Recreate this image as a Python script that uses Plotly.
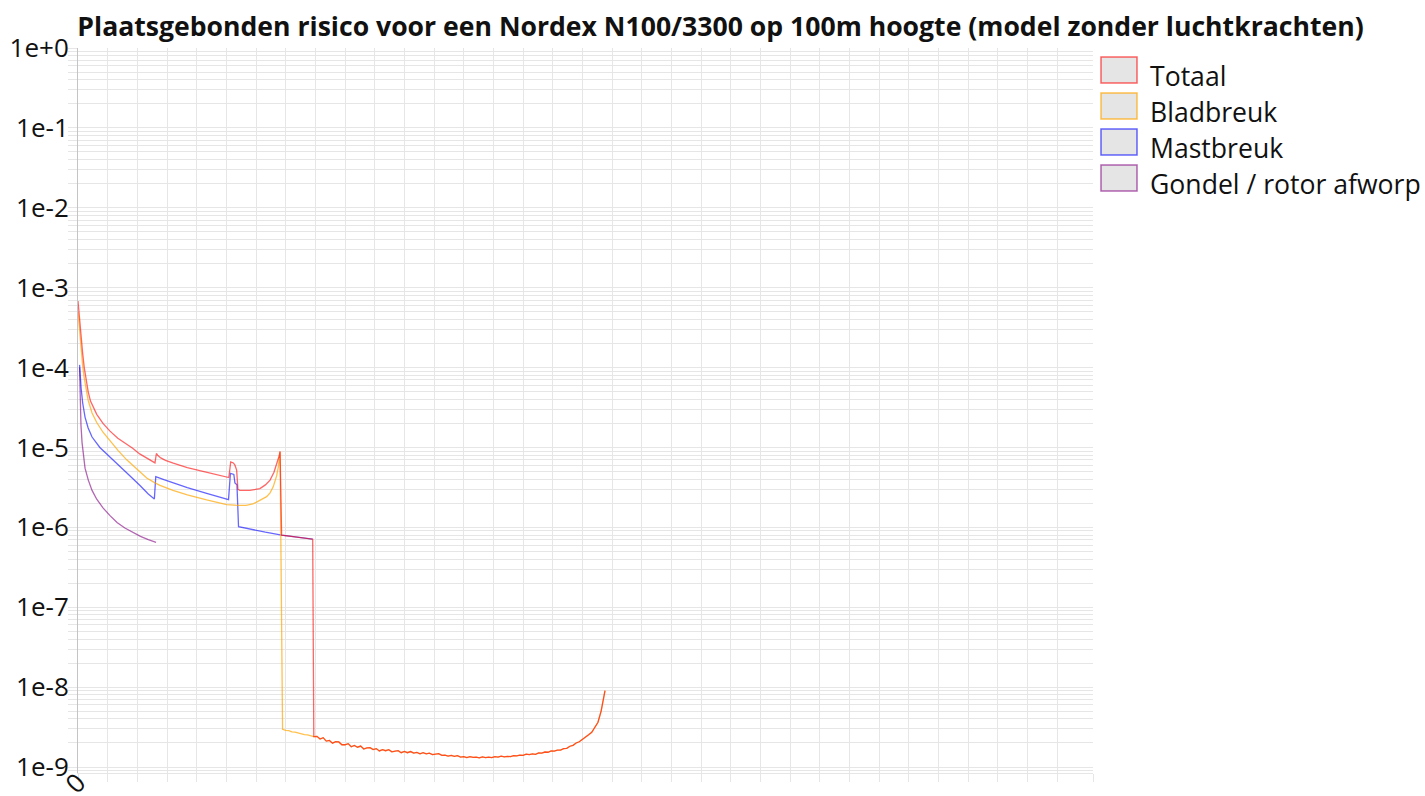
import plotly.graph_objects as go

# --- Data: afstand tot de mast (m) en plaatsgebonden risico per jaar ---

# Totaal, deel tot het einde van de mastbreuk-zone
totaal_x = [0, 1, 2, 3, 4, 5, 6.5, 8, 10, 12, 16, 20.5, 25.5, 31, 35, 39.5, 44, 49.3,
            50.2, 51, 53, 56, 61, 70, 82, 90, 96.6, 97.8, 99.5, 100.5, 101.6, 102.4,
            103.6, 110, 116.5, 120, 123, 125.5, 127.5, 128.8, 129.4, 130.4, 136.5, 143, 150.3]
totaal_y = [6.8e-4, 3.9e-4, 2.4e-4, 1.5e-4, 1.0e-4, 7.2e-5, 5.0e-5, 3.8e-5, 3.1e-5, 2.6e-5,
            2.0e-5, 1.6e-5, 1.3e-5, 1.1e-5, 9.8e-6, 8.3e-6, 7.3e-6, 6.4e-6,
            8.4e-6, 8.0e-6, 7.4e-6, 6.9e-6, 6.35e-6, 5.6e-6, 4.9e-6, 4.5e-6, 4.2e-6, 6.6e-6,
            6.4e-6, 6.0e-6, 5.2e-6, 3.0e-6, 2.9e-6, 2.9e-6, 3.05e-6, 3.4e-6, 3.9e-6, 4.9e-6,
            6.3e-6, 7.8e-6, 8.9e-6, 8.0e-7, 7.7e-7, 7.45e-7, 7.1e-7]

# Bladbreuk, deel tot de staart
blad_x = [0, 1, 2, 3, 4, 5, 6.5, 9, 12, 16, 20.5, 25.6, 31.2, 35, 39.7, 44, 49.3, 52.5,
          60.8, 70, 82.4, 95.2, 102.6, 107.6, 112, 116.5, 120.8, 123, 125, 127.2, 128.3,
          128.9, 129.4, 131, 133, 135, 137, 139, 141, 143, 145, 147, 149]
blad_y = [5.0e-4, 2.7e-4, 1.6e-4, 1.05e-4, 7.4e-5, 5.5e-5, 3.9e-5, 2.7e-5, 2.05e-5,
          1.55e-5, 1.2e-5, 9.2e-6, 7.0e-6, 6.0e-6, 4.9e-6, 4.15e-6, 3.6e-6, 3.35e-6,
          2.9e-6, 2.55e-6, 2.2e-6, 1.93e-6, 1.88e-6, 1.88e-6, 1.96e-6, 2.17e-6, 2.42e-6,
          2.7e-6, 3.21e-6, 4.4e-6, 5.7e-6, 7.38e-6, 8.8e-6, 2.97e-9, 2.88e-9, 2.86e-9,
          2.76e-9, 2.74e-9, 2.66e-9, 2.63e-9, 2.55e-9, 2.53e-9, 2.45e-9]

# Staart voorbij 150 m: alleen bladbreuk draagt nog bij, dus gelijk voor totaal en bladbreuk
staart_x = [151, 153, 155, 157, 159, 161, 163, 165, 167, 169, 171, 173, 175, 177, 179, 181,
            183, 185, 187, 189, 191, 193, 195, 197, 199, 201, 203, 205, 207, 209, 211, 213,
            215, 217, 219, 221, 223, 225, 227, 229, 231, 233, 235, 237, 239, 241, 243, 245,
            247, 249, 251, 253, 255, 257, 259, 261, 263, 265, 267, 269, 271, 273, 275, 277,
            279, 281, 283, 285, 287, 289, 291, 293, 295, 297, 299, 301, 303, 305, 307, 309,
            311, 313, 315, 317, 319, 321, 323, 325, 327, 329, 331, 333, 335, 336.5, 337.5]
staart_y = [2.40e-9, 2.42e-9, 2.24e-9, 2.33e-9, 2.11e-9, 2.15e-9, 1.99e-9, 2.08e-9, 2.06e-9,
            1.90e-9, 1.90e-9, 1.96e-9, 1.79e-9, 1.86e-9, 1.77e-9, 1.83e-9, 1.68e-9, 1.74e-9,
            1.75e-9, 1.65e-9, 1.70e-9, 1.59e-9, 1.65e-9, 1.60e-9, 1.65e-9, 1.55e-9, 1.58e-9,
            1.60e-9, 1.51e-9, 1.57e-9, 1.51e-9, 1.56e-9, 1.49e-9, 1.52e-9, 1.46e-9, 1.51e-9,
            1.46e-9, 1.49e-9, 1.43e-9, 1.46e-9, 1.47e-9, 1.40e-9, 1.41e-9, 1.37e-9, 1.40e-9,
            1.36e-9, 1.39e-9, 1.33e-9, 1.35e-9, 1.31e-9, 1.35e-9, 1.32e-9, 1.33e-9, 1.30e-9,
            1.34e-9, 1.31e-9, 1.33e-9, 1.31e-9, 1.35e-9, 1.33e-9, 1.37e-9, 1.34e-9, 1.36e-9,
            1.35e-9, 1.39e-9, 1.38e-9, 1.41e-9, 1.40e-9, 1.45e-9, 1.43e-9, 1.46e-9, 1.44e-9,
            1.50e-9, 1.49e-9, 1.54e-9, 1.53e-9, 1.59e-9, 1.58e-9, 1.63e-9, 1.63e-9, 1.70e-9,
            1.71e-9, 1.82e-9, 1.87e-9, 2.00e-9, 2.07e-9, 2.21e-9, 2.32e-9, 2.53e-9, 2.72e-9,
            3.09e-9, 3.63e-9, 5.01e-9, 7.59e-9, 9.04e-9]

# Mastbreuk
mast_x = [1, 1.5, 2, 3, 4.5, 6.5, 9, 14, 20.5, 27, 33, 39.7, 45, 48.9, 49.8, 55, 61, 70,
          82.4, 90, 96.4, 97.6, 99.8, 100.5, 101.8, 102.8, 110, 120, 130.4, 140, 150.3]
mast_y = [1.08e-4, 7.5e-5, 5.5e-5, 3.6e-5, 2.4e-5, 1.75e-5, 1.35e-5, 1.0e-5, 7.6e-6,
          5.9e-6, 4.45e-6, 3.34e-6, 2.62e-6, 2.27e-6, 4.3e-6, 3.95e-6, 3.6e-6, 3.15e-6,
          2.67e-6, 2.4e-6, 2.22e-6, 4.75e-6, 4.6e-6, 3.6e-6, 3.4e-6, 1.02e-6, 9.5e-7,
          8.7e-7, 8.0e-7, 7.6e-7, 7.1e-7]

# Gondel / rotor afworp
gondel_x = [1, 1.4, 1.9, 2.6, 3.4, 4.5, 6.6, 9, 12, 16, 20.5, 25, 30, 35.4, 40, 45, 50]
gondel_y = [1.0e-4, 4.5e-5, 1.9e-5, 1.15e-5, 7.7e-6, 5.5e-6, 3.9e-6, 2.9e-6, 2.25e-6,
            1.75e-6, 1.4e-6, 1.15e-6, 9.8e-7, 8.5e-7, 7.7e-7, 7.0e-7, 6.5e-7]

reeksen = ["Totaal", "Bladbreuk", "Mastbreuk", "Gondel / rotor afworp"]
lijnkleuren = ["rgba(255,0,0,0.6)", "rgba(255,165,0,0.7)", "rgba(0,0,255,0.6)",
               "rgba(128,0,128,0.6)"]

y_labels = ["1e-9", "1e-8", "1e-7", "1e-6", "1e-5", "1e-4", "1e-3", "1e-2", "1e-1", "1e+0"]

# --- Figure ---
W, H = 1425, 796
L, R, T, B = 78, 332, 48, 23
GRID = "#e6e6e6"
FONT = "Open Sans"
FS = 26

fig = go.Figure()

series = [
    (gondel_x, gondel_y, 3),
    (mast_x, mast_y, 2),
    (blad_x + staart_x, blad_y + staart_y, 1),
    (totaal_x + staart_x, totaal_y + staart_y, 0),
]
for xs, ys, i in series:
    fig.add_trace(go.Scatter(
        x=xs, y=ys, mode="lines", name=reeksen[i], showlegend=False,
        line=dict(color=lijnkleuren[i], width=1.3),
        hoverinfo="x+y+name",
    ))

# x-as: rasterlijnen om de 19 m, alleen het label bij 0
x_ticks = list(range(0, 628, 19)) + [650]
x_text = ["0"] + [""] * (len(x_ticks) - 1)

y_major = [10.0 ** p for p in range(-9, 1)]
y_minor = [k * 10.0 ** p for p in range(-10, 0) for k in range(2, 10)]

fig.update_xaxes(
    range=[0, 650], tickmode="array", tickvals=x_ticks, ticktext=x_text,
    tickangle=-45, ticks="outside", ticklen=8, tickcolor=GRID, ticklabelstandoff=-25,
    showgrid=True, gridcolor=GRID, gridwidth=1, zeroline=False,
    showline=True, linecolor=GRID, linewidth=1, automargin=False,
    tickfont=dict(family=FONT, size=FS, color="#111"),
)
fig.update_yaxes(
    type="log", range=[-9.075, 0], tickmode="array", tickvals=y_major,
    ticktext=y_labels, ticks="outside", ticklen=9, tickcolor=GRID, ticklabelstandoff=-6,
    showgrid=True, gridcolor=GRID, gridwidth=1, zeroline=False,
    showline=True, linecolor="#c4c4c4", linewidth=1, automargin=False,
    tickfont=dict(family=FONT, size=FS, color="#111"),
    minor=dict(tickmode="array", tickvals=y_minor, ticks="outside", ticklen=9,
               tickcolor=GRID, showgrid=True, gridcolor=GRID, gridwidth=1),
)

# Legenda als omrande vakjes met tekst rechts van het plotgebied
pw, ph = W - L - R, H - T - B


def px_x(px):
    return (px - L) / pw


def px_y(py):
    return (H - B - py) / ph


for i, naam in enumerate(reeksen):
    top = 57 + 36 * i
    fig.add_shape(
        type="rect", xref="paper", yref="paper",
        x0=px_x(1101), x1=px_x(1137), y0=px_y(top + 26), y1=px_y(top),
        fillcolor="rgba(0,0,0,0.1)", line=dict(color=lijnkleuren[i], width=1.5),
    )
    fig.add_annotation(
        x=px_x(1148), y=px_y(top + 19), xref="paper", yref="paper",
        text=naam, showarrow=False, xanchor="left", yanchor="middle",
        font=dict(family=FONT, size=26.6, color="#111"),
    )

fig.update_layout(
    width=W, height=H,
    margin=dict(l=L, r=R, t=T, b=B, pad=0, autoexpand=False),
    paper_bgcolor="white", plot_bgcolor="white",
    showlegend=False,
    title=dict(
        text="<b>Plaatsgebonden risico voor een Nordex N100/3300 op 100m hoogte "
             "(model zonder luchtkrachten)</b>",
        x=720.5 / W, xanchor="center", y=1 - 27 / H, yanchor="middle",
        font=dict(family=FONT, size=26.6, color="#111"),
    ),
)

fig.write_html("out.html")
